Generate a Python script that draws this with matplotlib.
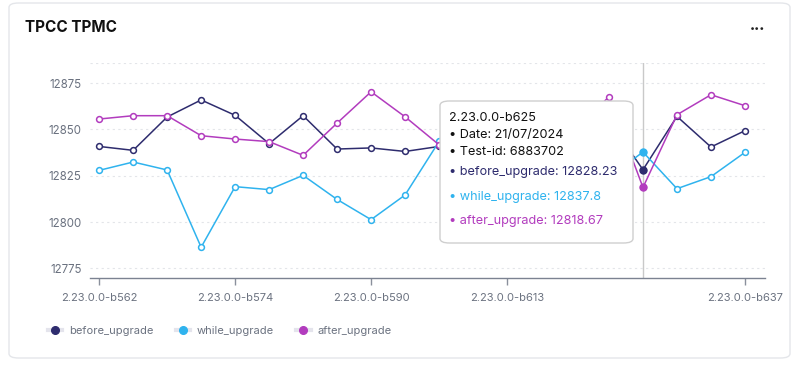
"""TPCC TPMC per build: before / while / after upgrade."""

import matplotlib

matplotlib.use("Agg")
import matplotlib.pyplot as plt
from matplotlib.lines import Line2D
from matplotlib.patches import FancyBboxPatch

builds = [
    "2.23.0.0-b562", "2.23.0.0-b565", "2.23.0.0-b568", "2.23.0.0-b571",
    "2.23.0.0-b574", "2.23.0.0-b578", "2.23.0.0-b582", "2.23.0.0-b586",
    "2.23.0.0-b590", "2.23.0.0-b596", "2.23.0.0-b601", "2.23.0.0-b607",
    "2.23.0.0-b613", "2.23.0.0-b616", "2.23.0.0-b619", "2.23.0.0-b622",
    "2.23.0.0-b625", "2.23.0.0-b629", "2.23.0.0-b633", "2.23.0.0-b637",
]
before_upgrade = [
    12840.8, 12838.7, 12856.7, 12865.9, 12857.6, 12842.3, 12857.4, 12839.4,
    12840.0, 12838.1, 12840.8, 12845.0, 12838.0, 12842.0, 12836.0, 12854.7,
    12828.23, 12857.0, 12840.5, 12849.3,
]
while_upgrade = [
    12827.9, 12832.4, 12828.1, 12786.4, 12819.1, 12817.5, 12825.2, 12812.2,
    12801.3, 12814.6, 12843.5, 12832.0, 12840.0, 12829.0, 12835.0, 12824.2,
    12837.8, 12818.0, 12824.5, 12837.6,
]
after_upgrade = [
    12855.6, 12857.4, 12857.4, 12846.6, 12844.8, 12843.4, 12836.0, 12853.4,
    12870.3, 12856.8, 12841.7, 12848.0, 12852.0, 12845.0, 12850.0, 12867.6,
    12818.67, 12857.9, 12868.7, 12862.8,
]
tick_idx = [0, 4, 8, 12, 19]
yticks = [12775, 12800, 12825, 12850, 12875]
hover_idx = 16
hover_date = "21/07/2024"
hover_test_id = "6883702"

series = [
    ("before_upgrade", before_upgrade, "#2e2c6e"),
    ("while_upgrade", while_upgrade, "#2fb3ee"),
    ("after_upgrade", after_upgrade, "#b23cbe"),
]

plt.rcParams["font.family"] = ["Inter", "DejaVu Sans"]

W, H = 798, 367
fig = plt.figure(figsize=(W / 100, H / 100), dpi=100)


def fx(px):
    return px / W


def fy(py):
    return 1 - py / H


# card frame
card = FancyBboxPatch(
    (fx(9), fy(358)), fx(781), 355 / H,
    boxstyle="round,pad=0,rounding_size=0.012",
    transform=fig.transFigure, facecolor="white", edgecolor="#e4e6ea",
    linewidth=1.0, zorder=-5,
)
fig.patches.append(card)
fig.text(fx(25), fy(27), "TPCC TPMC", fontsize=11, fontweight="bold",
         color="#111111", va="center", ha="left")
fig.text(fx(758), fy(29), "\u2022\u2022\u2022", fontsize=6.5, color="#222222",
         va="center", ha="center")

ax = fig.add_axes([fx(90), fy(278), fx(675), (278 - 62.7) / H])
ax.patch.set_alpha(0)
x = list(range(len(builds)))

for name, vals, color in series:
    ax.plot(x, vals, color=color, linewidth=1.1, marker="o", markersize=4.2,
            markerfacecolor="white", markeredgecolor=color,
            markeredgewidth=1.1, zorder=3)
    ax.plot(x[hover_idx], vals[hover_idx], marker="o", markersize=5,
            color=color, zorder=4)

ax.set_xlim(-0.27, 19.59)
ax.set_ylim(12769.8, 12886)
ax.set_yticks(yticks)
ax.set_xticks(tick_idx)
ax.set_xticklabels([builds[i] for i in tick_idx])
ax.tick_params(axis="y", length=0, pad=6, labelsize=8.3, labelcolor="#6b7280")
ax.tick_params(axis="x", length=5, width=1, color="#8a909c", pad=6,
               labelsize=8, labelcolor="#6b7280")
for s in ["top", "right", "left"]:
    ax.spines[s].set_visible(False)
ax.spines["bottom"].set_color("#7b8291")
ax.spines["bottom"].set_linewidth(1)
ax.grid(axis="y", color="#e3e5e9", linestyle=(0, (2, 3)), linewidth=0.8)
ax.axhline(ax.get_ylim()[1], color="#e3e5e9", linestyle=(0, (2, 3)),
           linewidth=0.8)
ax.set_axisbelow(True)
ax.axvline(hover_idx, color="#c9c9c9", linewidth=1, zorder=2)

# tooltip
tip = FancyBboxPatch(
    (fx(440), fy(243)), fx(193), 142 / H,
    boxstyle="round,pad=0,rounding_size=0.012",
    transform=fig.transFigure, facecolor="white", edgecolor="#cfcfcf",
    linewidth=1.0, zorder=10,
)
fig.patches.append(tip)
rows = [
    (builds[hover_idx], "#111111", 118),
    ("\u2022 Date: " + hover_date, "#111111", 135),
    ("\u2022 Test-id: " + hover_test_id, "#111111", 152),
]
for (name, vals, color), ypos in zip(series, [172, 197, 221]):
    rows.append((f"\u2022 {name}: {vals[hover_idx]}", color, ypos))
for txt, color, ypos in rows:
    fig.text(fx(449), fy(ypos), txt, fontsize=9.1, color=color,
             va="center", ha="left", zorder=11)

handles = [
    Line2D([0], [0], color="#e4e4ec", linewidth=3, marker="o",
           markersize=5.5, markerfacecolor=color, markeredgecolor=color)
    for _, _, color in series
]
fig.legend(handles, [n for n, _, _ in series], loc="center left",
           bbox_to_anchor=(fx(38), fy(331)), ncol=3, frameon=False,
           fontsize=8, labelcolor="#6b7280", handlelength=1.3,
           handletextpad=0.6, columnspacing=2.0)

fig.savefig("out.png", dpi=100)
